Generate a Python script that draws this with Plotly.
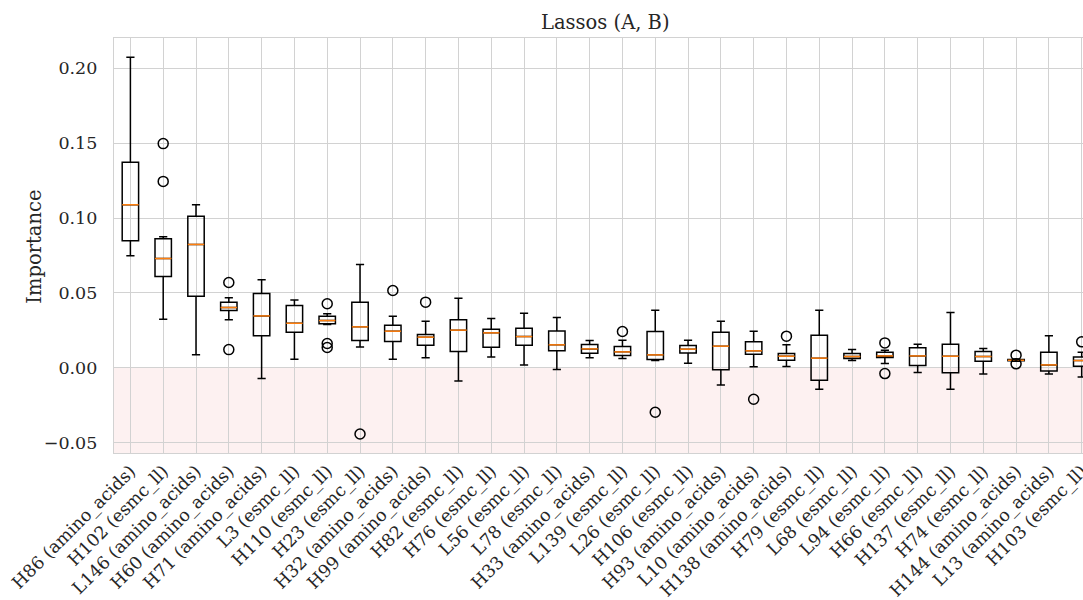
import plotly.graph_objects as go

# Feature labels, in rank order
features = [
    "H86 (amino_acids)", "H102 (esmc_ll)", "L146 (amino_acids)", "H60 (amino_acids)",
    "H71 (amino_acids)", "L3 (esmc_ll)", "H110 (esmc_ll)", "H23 (esmc_ll)",
    "H32 (amino_acids)", "H99 (amino_acids)", "H82 (esmc_ll)", "H76 (esmc_ll)",
    "L56 (esmc_ll)", "L78 (esmc_ll)", "H33 (amino_acids)", "L139 (esmc_ll)",
    "L26 (esmc_ll)", "H106 (esmc_ll)", "H93 (amino_acids)", "L10 (amino_acids)",
    "H138 (amino_acids)", "H79 (esmc_ll)", "L68 (esmc_ll)", "L94 (esmc_ll)",
    "H66 (esmc_ll)", "H137 (esmc_ll)", "H74 (esmc_ll)", "H144 (amino_acids)",
    "L13 (amino_acids)", "H103 (esmc_ll)",
]

# Box statistics per feature
lower_whisker = [0.0748, 0.0325, 0.0087, 0.0321, -0.0071, 0.0058, 0.0290, 0.0140,
                 0.0058, 0.0067, -0.0087, 0.0073, 0.0020, -0.0011, 0.0067, 0.0062,
                 0.0049, 0.0031, -0.0114, 0.0007, 0.0009, -0.0143, 0.0049, 0.0029,
                 -0.0031, -0.0143, -0.0040, 0.0045, -0.0040, -0.0060]
q1 = [0.0849, 0.0610, 0.0479, 0.0383, 0.0214, 0.0238, 0.0294, 0.0183,
      0.0176, 0.0151, 0.0109, 0.0138, 0.0151, 0.0114, 0.0098, 0.0082,
      0.0056, 0.0100, -0.0013, 0.0091, 0.0051, -0.0082, 0.0062, 0.0069,
      0.0016, -0.0033, 0.0045, 0.0047, -0.0020, 0.0011]
median = [0.1089, 0.0730, 0.0824, 0.0403, 0.0347, 0.0298, 0.0316, 0.0274,
          0.0245, 0.0205, 0.0252, 0.0234, 0.0209, 0.0154, 0.0127, 0.0107,
          0.0087, 0.0125, 0.0145, 0.0114, 0.0078, 0.0065, 0.0076, 0.0080,
          0.0080, 0.0078, 0.0076, 0.0051, 0.0020, 0.0049]
q3 = [0.1372, 0.0862, 0.1013, 0.0439, 0.0497, 0.0416, 0.0345, 0.0439,
      0.0285, 0.0223, 0.0321, 0.0258, 0.0265, 0.0247, 0.0156, 0.0143,
      0.0243, 0.0149, 0.0238, 0.0174, 0.0096, 0.0218, 0.0096, 0.0105,
      0.0134, 0.0158, 0.0109, 0.0056, 0.0105, 0.0073]
upper_whisker = [0.2074, 0.0875, 0.1089, 0.0468, 0.0588, 0.0454, 0.0361, 0.0690,
                 0.0345, 0.0312, 0.0465, 0.0330, 0.0365, 0.0336, 0.0183, 0.0185,
                 0.0385, 0.0185, 0.0312, 0.0245, 0.0154, 0.0385, 0.0122, 0.0118,
                 0.0158, 0.0370, 0.0129, 0.0060, 0.0214, 0.0105]

# Outlying points (feature index, value)
outlier_idx = [1, 1, 3, 3, 6, 6, 6, 7, 8, 9, 15, 16, 19, 20, 23, 23, 27, 27, 29]
outlier_val = [0.1497, 0.1245, 0.0570, 0.0122, 0.0428, 0.0163, 0.0136, -0.0441,
               0.0517, 0.0439, 0.0243, -0.0296, -0.0209, 0.0212, 0.0167, -0.0038,
               0.0085, 0.0027, 0.0174]

FONT = "DejaVu Serif"
TEXT = "#262626"
GRID = "#d2d2d2"
BOX_W = 0.5
TICK_SIZE = 17.5
LABEL_SIZE = 19.5

fig = go.Figure()

positions = list(range(len(features)))
fig.add_trace(go.Box(
    x=positions,
    q1=q1, median=median, q3=q3,
    lowerfence=lower_whisker, upperfence=upper_whisker,
    width=BOX_W, whiskerwidth=0.5,
    fillcolor="rgba(0,0,0,0)",
    line=dict(color="black", width=1.5),
    boxpoints=False, showlegend=False, hoverinfo="skip",
))

# Orange median bars drawn over each box
mx, my = [], []
for i, m in enumerate(median):
    mx += [i - BOX_W / 2, i + BOX_W / 2, None]
    my += [m, m, None]
fig.add_trace(go.Scatter(
    x=mx, y=my, mode="lines",
    line=dict(color="#ff7f0e", width=1.5),
    showlegend=False, hoverinfo="skip",
))

fig.add_trace(go.Scatter(
    x=outlier_idx, y=outlier_val, mode="markers",
    marker=dict(symbol="circle-open", size=10, color="black", line=dict(width=1.5)),
    showlegend=False, hoverinfo="skip",
))

# Shaded band for negative importance
fig.add_shape(
    type="rect", xref="paper", x0=0, x1=1, yref="y", y0=-1, y1=0,
    fillcolor="rgba(240,128,128,0.11)", line=dict(width=0), layer="between",
)

fig.add_annotation(
    text="Lassos (A, B)", xref="paper", yref="paper", x=0.507, y=1.0,
    yshift=16, xanchor="center", yanchor="middle", showarrow=False,
    font=dict(family=FONT, size=LABEL_SIZE, color=TEXT),
)
fig.add_annotation(
    text="Importance", xref="paper", yref="paper", x=-0.0815, y=0.497,
    xanchor="center", yanchor="middle", textangle=-90, showarrow=False,
    font=dict(family=FONT, size=LABEL_SIZE, color=TEXT),
)

fig.update_layout(
    width=1083, height=600,
    margin=dict(l=114, r=0, t=38, b=147),
    paper_bgcolor="white", plot_bgcolor="white",
    font=dict(family=FONT, size=TICK_SIZE, color=TEXT),
    xaxis=dict(
        range=[-0.5, 29.04], automargin=False,
        tickmode="array", tickvals=positions, ticktext=features,
        tickangle=-45, ticks="", ticklabeloverflow="allow",
        showgrid=True, gridcolor=GRID, gridwidth=1.2,
        showline=True, linecolor=GRID, linewidth=1.2, mirror=True,
        zeroline=False, tickfont=dict(family=FONT, size=TICK_SIZE, color=TEXT),
    ),
    yaxis=dict(
        range=[-0.0568, 0.2202], automargin=False,
        tickmode="array", tickvals=[-0.05, 0.0, 0.05, 0.10, 0.15, 0.20],
        tickformat=".2f", ticks="", ticklabelstandoff=12,
        showgrid=True, gridcolor=GRID, gridwidth=1.2,
        showline=True, linecolor=GRID, linewidth=1.2, mirror=True,
        zeroline=False, tickfont=dict(family=FONT, size=TICK_SIZE, color=TEXT),
    ),
)

fig.write_html("out.html")
